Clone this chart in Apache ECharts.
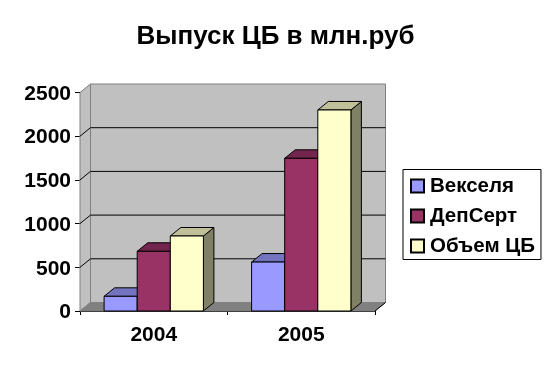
<!DOCTYPE html>
<html>
<head>
<meta charset="utf-8">
<title>Выпуск ЦБ</title>
<script src="https://cdn.jsdelivr.net/npm/echarts@6/dist/echarts.min.js"></script>
<style>
html, body { margin: 0; padding: 0; background: #fff; }
#chart { width: 552px; height: 369px; }
</style>
</head>
<body>
<div id="chart"></div>
<script>
var years = ['2004', '2005'];
var veksel = [168, 560];
var depSert = [683, 1747];
var obem = [858, 2300];
var yTicks = [0, 500, 1000, 1500, 2000, 2500];

var fontName = '"Liberation Sans", Arial, sans-serif';
// смещение "глубины" псевдо-3D
var depthX = 10.5;
var depthY = 8.5;
var barShare = 0.2244;

var poly = function(points, fill, stroke, width) {
	return {
		type: 'polygon',
		shape: { points: points },
		style: { fill: fill, stroke: stroke, lineWidth: width === undefined ? 1 : width }
	};
};

//стенки и пол
var renderWalls = function(params, api) {
	var x0 = params.coordSys.x;
	var x1 = x0 + params.coordSys.width;
	var yTop = params.coordSys.y;
	var yBot = yTop + params.coordSys.height;
	return {
		type: 'group',
		children: [
			poly([[x0 + depthX, yTop - depthY], [x1 + depthX, yTop - depthY], [x1 + depthX, yBot - depthY], [x0 + depthX, yBot - depthY]], '#C0C0C0', '#808080'),
			poly([[x0, yTop], [x0 + depthX, yTop - depthY], [x0 + depthX, yBot - depthY], [x0, yBot]], '#C0C0C0', '#808080'),
			poly([[x0, yBot], [x0 + depthX, yBot - depthY], [x1 + depthX, yBot - depthY], [x1, yBot]], '#808080', '#808080'),
			//правый край пола
			{
				type: 'line',
				shape: { x1: x1, y1: yBot, x2: x1 + depthX, y2: yBot - depthY },
				style: { stroke: '#000', lineWidth: 1 }
			}
		]
	};
};

//линии сетки на стенках
var renderGrid = function(params, api) {
	var val = api.value(0);
	if (val === 0 || val === 2500) {
		return null;
	}
	var y = api.coord([0, val])[1];
	var x0 = params.coordSys.x;
	var x1 = x0 + params.coordSys.width;
	return {
		type: 'polyline',
		shape: { points: [[x0, y], [x0 + depthX, y - depthY], [x1 + depthX, y - depthY]] },
		style: { fill: 'none', stroke: '#000', lineWidth: 1 }
	};
};

var barRenderer = function(order, front, top, side) {
	return function(params, api) {
		var bottom = api.coord([api.value(0), 0]);
		var upper = api.coord([api.value(0), api.value(1)]);
		var w = api.size([1, 0])[0] * barShare;
		var l = bottom[0] + (order - 1.5) * w;
		var r = l + w;
		var t = upper[1];
		var b = bottom[1];
		return {
			type: 'group',
			children: [
				poly([[r, t], [r + depthX, t - depthY], [r + depthX, b - depthY], [r, b]], side, '#000'),
				poly([[l, t], [l + depthX, t - depthY], [r + depthX, t - depthY], [r, t]], top, '#000'),
				poly([[l, t], [r, t], [r, b], [l, b]], front, '#000')
			]
		};
	};
};

var toPairs = function(values) {
	return values.map(function(v, i) { return [i, v]; });
};

var barSeries = function(name, values, order, front, top, side) {
	return {
		name: name,
		type: 'custom',
		z: 5,
		clip: false,
		itemStyle: { color: front, borderColor: '#000', borderWidth: 1 },
		renderItem: barRenderer(order, front, top, side),
		data: toPairs(values)
	};
};

var chart = echarts.init(document.getElementById('chart'));
chart.setOption({
	animation: false,
	backgroundColor: '#fff',
	textStyle: { fontFamily: fontName },
	title: {
		text: 'Выпуск ЦБ в млн.руб',
		left: 270.5,
		top: 19,
		textAlign: 'center',
		textStyle: { fontFamily: fontName, fontSize: 26, fontWeight: 'bold', color: '#000' }
	},
	legend: {
		orient: 'vertical',
		left: 403,
		top: 169.5,
		padding: [6, 6, 3, 7],
		itemWidth: 13,
		itemHeight: 13,
		itemGap: 9,
		icon: 'rect',
		borderColor: '#000',
		borderWidth: 1,
		selectedMode: false,
		textStyle: { fontFamily: fontName, fontSize: 20.5, fontWeight: 'bold', color: '#000', padding: [0, 0, 0, 1] },
		data: ['Векселя', 'ДепСерт', 'Объем ЦБ']
	},
	grid: { left: 80, right: 177, top: 92.5, bottom: 58 },
	xAxis: {
		type: 'category',
		data: years,
		axisLine: { lineStyle: { color: '#000', width: 1 } },
		axisTick: { show: true, alignWithLabel: false, length: 4, lineStyle: { color: '#000' } },
		axisLabel: { color: '#000', fontSize: 21, fontWeight: 'bold', margin: 14, fontFamily: fontName },
		splitLine: { show: false }
	},
	yAxis: {
		type: 'value',
		min: 0,
		max: 2500,
		interval: 500,
		axisLine: { show: true, lineStyle: { color: '#000', width: 1 } },
		axisTick: { show: true, length: 5, lineStyle: { color: '#000' } },
		axisLabel: {
			margin: 9,
			formatter: function(v) { return '{v|' + v + '}'; },
			rich: {
				v: { color: '#000', fontSize: 21, fontWeight: 'bold', fontFamily: fontName, padding: [3, 0, 0, 0] }
			}
		},
		splitLine: { show: false }
	},
	series: [
		{ type: 'custom', z: 1, clip: false, silent: true, renderItem: renderWalls, data: [[0]] },
		{ type: 'custom', z: 2, clip: false, silent: true, renderItem: renderGrid, data: yTicks.map(function(v) { return [v]; }), encode: { y: 0 } },
		barSeries('Векселя', veksel, 0, '#9999FF', '#7373BF', '#4D4D80'),
		barSeries('ДепСерт', depSert, 1, '#993366', '#73264D', '#4D1A33'),
		barSeries('Объем ЦБ', obem, 2, '#FFFFCC', '#BFBF99', '#808066')
	]
});
</script>
</body>
</html>
